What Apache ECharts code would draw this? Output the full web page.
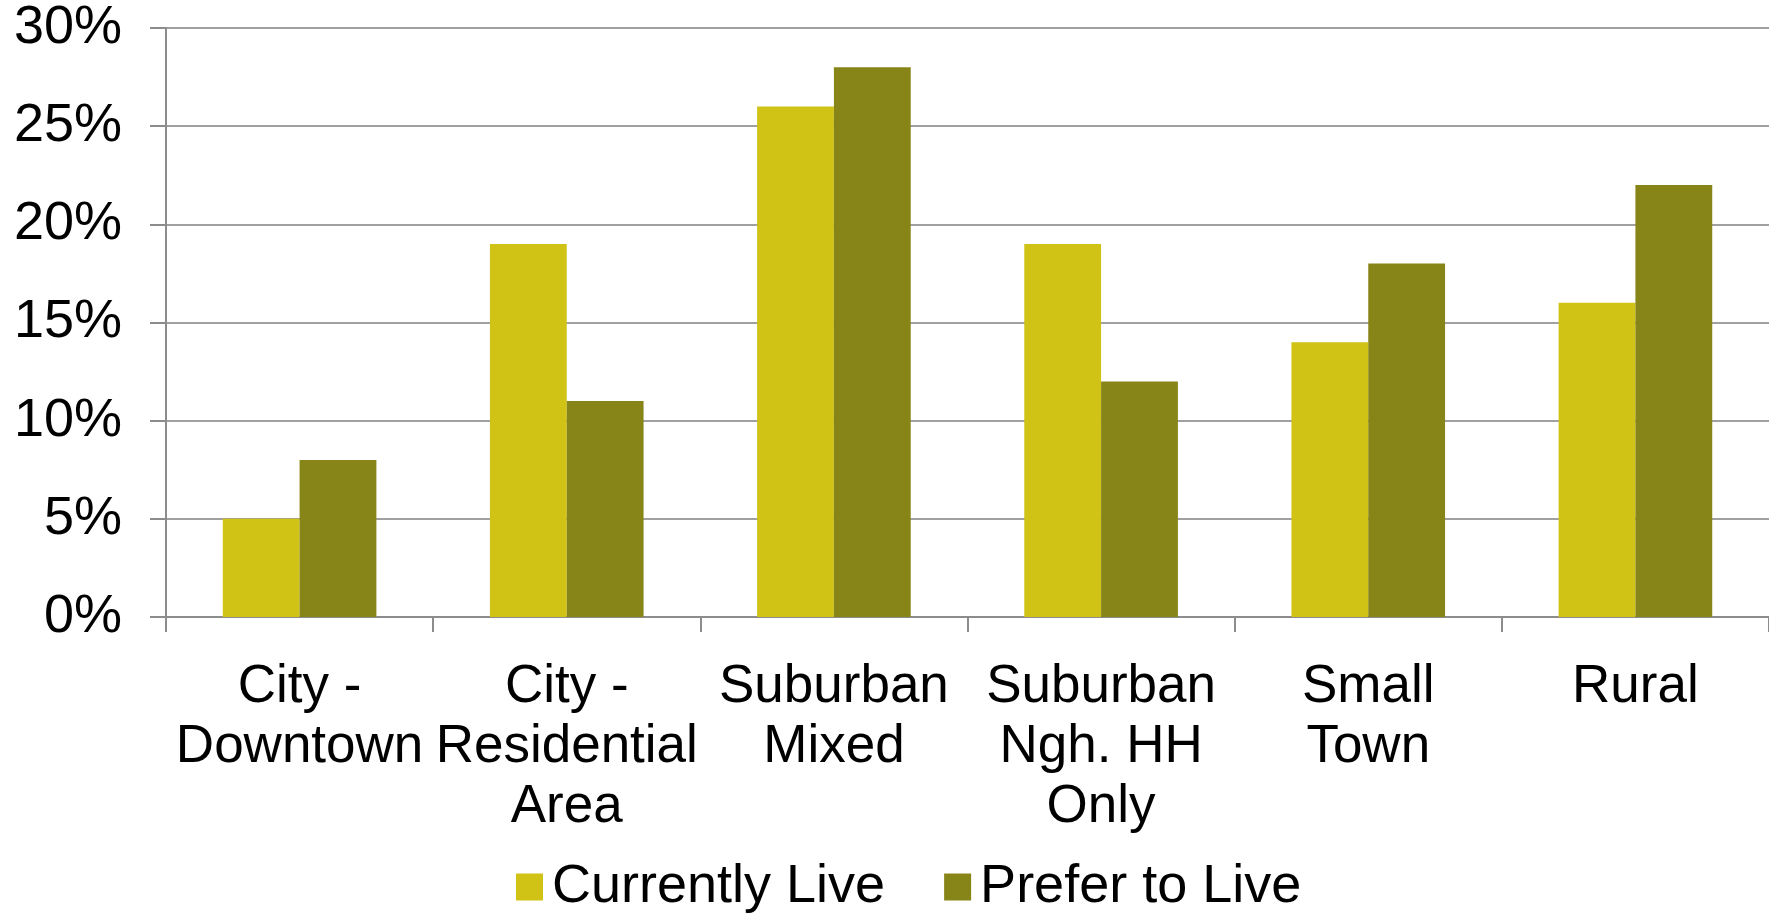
<!DOCTYPE html>
<html>
<head>
<meta charset="utf-8">
<title>Currently Live vs Prefer to Live</title>
<script src="https://cdn.jsdelivr.net/npm/echarts@6/dist/echarts.min.js"></script>
<style>
  html, body { margin: 0; padding: 0; background: #ffffff; }
  #chart { width: 1769px; height: 916px; }
</style>
</head>
<body>
<div id="chart"></div>
<script>
// Community types (x axis), with line breaks as shown under each group
const categories = [
  'City -\nDowntown',
  'City -\nResidential\nArea',
  'Suburban\nMixed',
  'Suburban\nNgh. HH\nOnly',
  'Small\nTown',
  'Rural'
];

// Share of respondents, in percent
const currentlyLive = [5, 19, 26, 19, 14, 16];
const preferToLive  = [8, 11, 28, 12, 18, 22];

// Value axis ticks
const yMin = 0;
const yMax = 30;
const yStep = 5;

const seriesNames = ['Currently Live', 'Prefer to Live'];
const colors = ['#D0C315', '#878418'];

const FONT = '"Liberation Sans", Arial, Helvetica, sans-serif';

const chart = echarts.init(document.getElementById('chart'), null, { renderer: 'canvas' });

chart.setOption({
  animation: false,
  backgroundColor: '#ffffff',
  color: colors,
  textStyle: { fontFamily: FONT },
  grid: {
    left: 166,
    top: 28,
    width: 1616,
    height: 589,
    containLabel: false
  },
  legend: {
    data: seriesNames,
    left: 511,
    top: 855,
    itemWidth: 27,
    itemHeight: 27,
    itemGap: 59,
    icon: 'rect',
    textStyle: {
      fontFamily: FONT,
      fontSize: 54,
      color: '#000000',
      padding: [14, 0, 0, 4]
    }
  },
  xAxis: {
    type: 'category',
    data: categories,
    axisLine: { show: true, lineStyle: { color: '#8C8C8C', width: 2 } },
    axisTick: {
      show: true,
      alignWithLabel: false,
      length: 15,
      lineStyle: { color: '#8C8C8C', width: 2 }
    },
    axisLabel: {
      interval: 0,
      hideOverlap: false,
      margin: 40,
      fontFamily: FONT,
      fontSize: 53,
      lineHeight: 60,
      color: '#000000',
      align: 'center',
      verticalAlign: 'top'
    },
    splitLine: { show: false }
  },
  yAxis: {
    type: 'value',
    min: yMin,
    max: yMax,
    interval: yStep,
    axisLine: { show: true, lineStyle: { color: '#8C8C8C', width: 2 } },
    axisTick: {
      show: true,
      length: 16,
      lineStyle: { color: '#8C8C8C', width: 2 }
    },
    axisLabel: {
      formatter: '{value}%',
      margin: 44,
      fontFamily: FONT,
      fontSize: 54,
      color: '#000000'
    },
    splitLine: { show: true, lineStyle: { color: '#A0A0A0', width: 2 } }
  },
  series: [
    {
      name: seriesNames[0],
      type: 'bar',
      data: currentlyLive,
      barGap: '0%',
      barCategoryGap: '42.5%',
      itemStyle: { color: colors[0] }
    },
    {
      name: seriesNames[1],
      type: 'bar',
      data: preferToLive,
      barGap: '0%',
      barCategoryGap: '42.5%',
      itemStyle: { color: colors[1] }
    }
  ]
});
</script>
</body>
</html>
